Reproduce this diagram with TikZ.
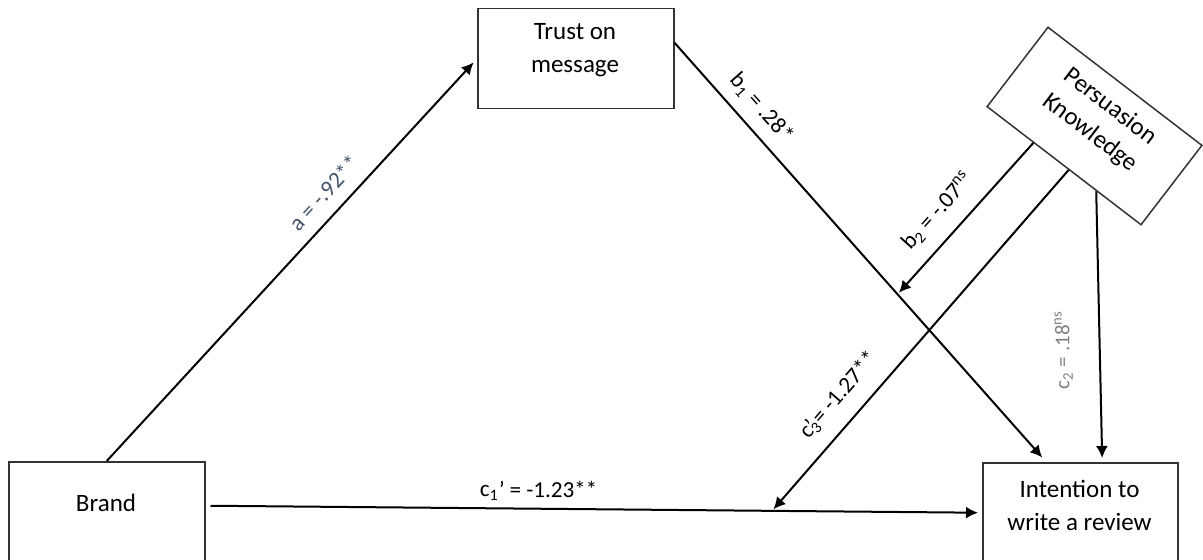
\documentclass[tikz,border=0pt]{standalone}
\usepackage{fontspec}
\setmainfont{Carlito}
\usepackage{tikz}
\usetikzlibrary{arrows.meta,calc}
\definecolor{slate}{HTML}{44546A}

\begin{document}
\begin{tikzpicture}[x=0.5pt, y=-0.5pt, >={Latex[length=6pt,width=6pt]},
    box/.style={draw=black!80, line width=0.75pt, inner sep=0pt},
    txt/.style={align=center, font=\fontsize{12.5}{16.5}\selectfont},
    path/.style={->, line width=1pt},
    coef/.style={font=\fontsize{11.5}{13}\selectfont, sloped}]
    \useasboundingbox (0,0) rectangle (1203,560);

    % Riquadri
    \node[box, minimum width=98pt, minimum height=70pt, anchor=north west] (brand) at (8,461) {};
    \node[txt] (brandtxt) at (106,503) {Brand};

    \node[box, minimum width=98pt, minimum height=50pt, anchor=north west] (trust) at (477,8) {};
    \node[txt] (trusttxt) at (575,50.5) {Trust on\\message};

    \node[box, minimum width=97.5pt, minimum height=70pt, anchor=north west] (intent) at (982,462) {};
    \node[txt] (intenttxt) at (1079.5,505.5) {Intention to\\write a review};

    % Riquadro ruotato
    \node[box, minimum width=97pt, minimum height=50pt, rotate=-37.5] (pk) at (1094.5,126) {};
    \node[txt, rotate=-37.5] (pktxt) at (1100,120) {Persuasion\\Knowledge};

    % Percorso a
    \draw[path, shorten >=2.5pt] (brand.north) -- (trust.west)
        node[coef, pos=0.63, above=3pt, text=slate] {a = -.92**};

    % Percorso b1
    \draw[path, shorten >=3pt] ([yshift=8pt]trust.east) -- ([xshift=-17pt]intent.north)
        coordinate[pos=0.6] (b1pt)
        node[coef, pos=0.19, above=2pt] {b\textsubscript{1} = .28*};

    % Percorso c1'
    \draw[path, shorten >=2pt] ([xshift=2.5pt, yshift=13pt]brand.east) -- ([yshift=10pt]intent.west)
        coordinate[pos=0.728] (c1pt)
        node[coef, pos=0.425, above=0pt] {c\textsubscript{1}’ = -1.23**};

    % Moderazione b2
    \draw[path, shorten >=1pt] (pk.233) -- (b1pt)
        node[coef, pos=0.565, above=4pt] {b\textsubscript{2} = -.07\textsuperscript{ns}};

    % Moderazione c3'
    \draw[path, shorten >=1pt] (pk.277) -- (c1pt)
        node[coef, pos=0.71, above=4pt] {c\rlap{’}\textsubscript{3}= -1.27**};

    % Effetto c2
    \draw[path, shorten >=2pt] (pk.309) -- ([xshift=11pt]intent.north)
        node[pos=0.586, rotate=90, anchor=south, inner xsep=0pt, inner ysep=13pt,
             text=gray, font=\fontsize{10.5}{12}\selectfont] {c\textsubscript{2} = .18\textsuperscript{ns}};

\end{tikzpicture}
\end{document}
